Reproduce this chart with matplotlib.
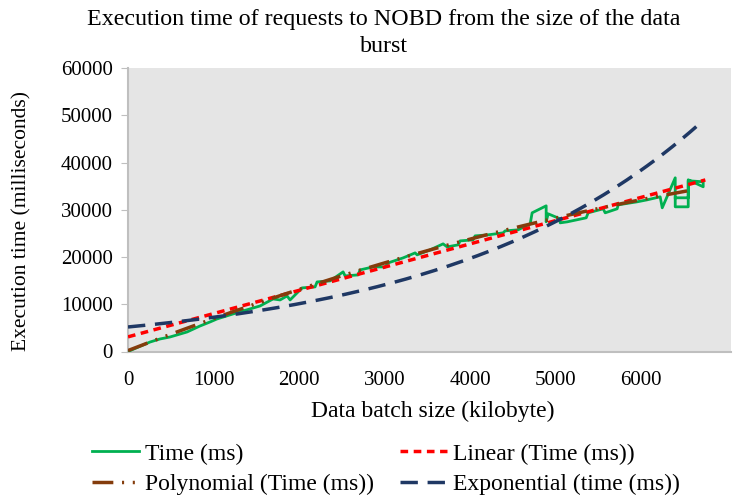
import numpy as np
import matplotlib
matplotlib.use("Agg")
import matplotlib.pyplot as plt
from matplotlib.lines import Line2D

# ---- data ----
size_kb = [12, 257, 374, 491, 690, 842, 959, 1041, 1228, 1345, 1544, 1696, 1778, 1860, 1895,
           2035, 2187, 2211, 2363, 2515, 2538, 2690, 2713, 2865, 3006, 3041, 3216, 3357, 3380,
           3532, 3684, 3731, 3860, 3883, 4035, 4058, 4211, 4386, 4409, 4561, 4702, 4725, 4889,
           4889, 4912, 5053, 5053, 5135, 5357, 5380, 5556, 5579, 5719, 5731, 5953, 6070, 6222,
           6246, 6398, 6398, 6550, 6550, 6725, 6725, 6550, 6550, 6398]
time_ms = [100, 2000, 2650, 3070, 4130, 5400, 6250, 6890, 7950, 8580, 9640, 11120, 10910, 11760, 10910,
           13460, 13670, 14730, 14940, 16850, 16000, 16210, 17270, 17900, 17900, 18750, 19810, 20870, 20450,
           21510, 22780, 22140, 22570, 23410, 23630, 24470, 24690, 25110, 25530, 25750, 27020, 29350, 30830,
           27440, 29140, 28080, 27230, 27440, 28290, 29350, 30200, 29350, 30200, 31040, 31680, 32100, 32740,
           30410, 36760, 30620, 30620, 36340, 34860, 35920, 36130, 32530, 32530]

# trendline parameters
linear_coef = (3100.0, 4.92)               # intercept, slope
linear_range = (0, 6750)
poly_coef = (200.0, 7.044, -2.868e-4)      # c0, c1, c2
poly_range = (0, 6610)
expo_coef = (5190.0, 3.335e-4)             # a, k  -> a*exp(k x)
expo_range = (0, 6670)

x_ticks = [0, 1000, 2000, 3000, 4000, 5000, 6000]
y_ticks = [0, 10000, 20000, 30000, 40000, 50000, 60000]

title = "Execution time of requests to NOBD from the size of the data\nburst"
xlabel = "Data batch size (kilobyte)"
ylabel = "Execution time (milliseconds)"
labels = ["Time (ms)", "Linear (Time (ms))", "Polynomial (Time (ms))", "Exponential (time (ms))"]

# ---- plotting ----
plt.rcParams['font.family'] = ['Liberation Serif', 'DejaVu Serif']
FS_TICK = 15
FS_BIG = 17

fig = plt.figure(figsize=(7.33, 4.96), dpi=100)
ax = fig.add_axes([128/733, 1-351.5/496, (731-128)/733, (351.5-68)/496])
ax.set_facecolor('#E5E5E5')

green = '#00B050'
red = '#FF0000'
brown = '#843C0C'
navy = '#1F3864'

d_lin = (2.2, 1.6)
d_poly = (6, 2.5, 0.6, 2.5, 0.6, 2.5)
d_exp = (5, 2.8)

ax.plot(size_kb, time_ms, color=green, lw=2.0, zorder=3)

xl = np.linspace(*linear_range, 200)
ax.plot(xl, linear_coef[0] + linear_coef[1]*xl, color=red, lw=2.5, dashes=d_lin, zorder=4)

xp = np.linspace(*poly_range, 200)
ax.plot(xp, poly_coef[0] + poly_coef[1]*xp + poly_coef[2]*xp**2, color=brown, lw=2.5,
        dashes=d_poly, zorder=5)

xe = np.linspace(*expo_range, 200)
ax.plot(xe, expo_coef[0]*np.exp(expo_coef[1]*xe), color=navy, lw=2.5, dashes=d_exp, zorder=6)

ax.set_xlim(0, 7050)
ax.set_ylim(0, 60000)
ax.set_xticks(x_ticks)
ax.set_yticks(y_ticks)
ax.tick_params(axis='x', length=0, labelsize=FS_TICK, pad=14)
ax.tick_params(axis='y', length=5, color='#BFBFBF', labelsize=FS_TICK, pad=6)
for s in ['top', 'right']:
    ax.spines[s].set_visible(False)
for s in ['left', 'bottom']:
    ax.spines[s].set_color('#BFBFBF')
    ax.spines[s].set_linewidth(1.5)

fig.text(384/733, 1-9/496, title, ha='center', va='top', fontsize=17.3, linespacing=1.38)
fig.text(22/733, 1-221/496, ylabel, ha='center', va='center', rotation=90, fontsize=15.5)
fig.text(433/733, 1-411/496, xlabel, ha='center', va='center', fontsize=FS_BIG)

h_time = Line2D([], [], color=green, lw=2.0)
h_lin = Line2D([], [], color=red, lw=2.5, dashes=d_lin)
h_poly = Line2D([], [], color=brown, lw=2.5, dashes=d_poly)
h_exp = Line2D([], [], color=navy, lw=2.5, dashes=d_exp)
# matplotlib fills legend column-wise; order so rows read Time|Linear, Polynomial|Exponential
fig.legend([h_time, h_poly, h_lin, h_exp], [labels[0], labels[2], labels[1], labels[3]],
           ncol=2, loc='center', bbox_to_anchor=(386/733, 1-469/496),
           frameon=False, fontsize=FS_BIG, handlelength=2.0, handletextpad=0.25,
           columnspacing=1.1, labelspacing=0.36)

fig.savefig('out.png', dpi=100, facecolor='white')
